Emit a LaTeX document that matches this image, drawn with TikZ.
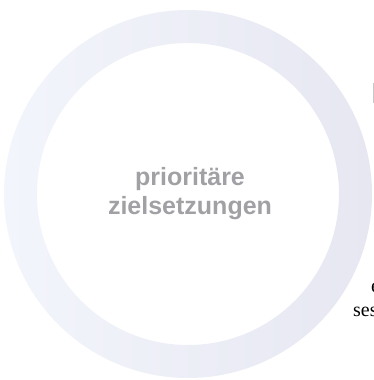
\documentclass[tikz,border=0pt]{standalone}
\usepackage{fontspec}
\setmainfont{Liberation Serif}
\setsansfont{Liberation Sans}
\definecolor{ringlight}{HTML}{F3F5FC}
\definecolor{ringdark}{HTML}{E6E7F1}
\definecolor{goalgray}{HTML}{A1A1A5}
\tikzset{
  goaltext/.style={font=\sffamily\bfseries\fontsize{25}{29}\selectfont, text=goalgray, align=center},
  cuttext/.style={font=\rmfamily\fontsize{20}{24}\selectfont, anchor=base west, inner sep=0pt}
}

\begin{document}
\begin{tikzpicture}[x=1pt, y=1pt]
\useasboundingbox (0,0) rectangle (374,380);
\clip (0,0) rectangle (374,380);
% ring
\shade[even odd rule, left color=ringlight, right color=ringdark]
  (188,186) circle (184) (188,186) circle (151);
\node[goaltext] (goal) at (190,186) {prioritäre\\zielsetzungen};
% text of the next element, cut off at the border
\node[cuttext] (cutc) at (371,87) {e};
\node[cuttext] (cutses) at (353,63) {sessions};
\fill[goalgray!60] (372.5,277) rectangle (374,297);
\end{tikzpicture}
\end{document}
